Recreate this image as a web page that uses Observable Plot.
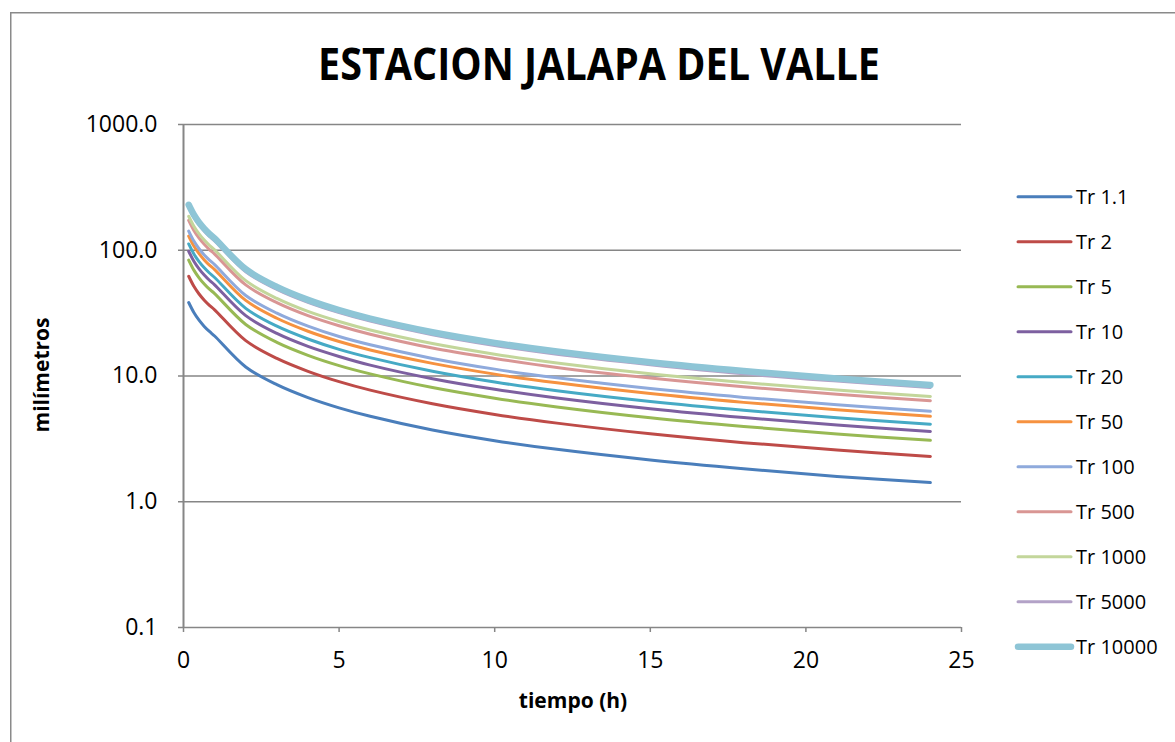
<!DOCTYPE html>
<html>
<head>
<meta charset="utf-8">
<script src="https://cdn.jsdelivr.net/npm/d3@7"></script>
<script src="https://cdn.jsdelivr.net/npm/@observablehq/plot@0.6"></script>
<style>
  html, body { margin: 0; padding: 0; background: #fff; }
  #chart { width: 1175px; height: 742px; overflow: hidden; }
</style>
</head>
<body>
<div id="chart"></div>
<script>
// duration in hours
const durations = [0.167, 0.333, 0.5, 0.667, 0.833, 1, 2, 3, 4, 5, 6, 8, 10, 12, 15, 18, 21, 24];

const tr1_1   = [38.4, 32.0, 27.8, 24.8, 22.6, 20.8, 11.8, 8.53, 6.73, 5.58, 4.78, 3.72, 3.06, 2.61, 2.15, 1.83, 1.59, 1.42];
const tr2     = [62.1, 51.7, 44.9, 40.1, 36.5, 33.6, 19.1, 13.8, 10.9, 9.02, 7.72, 6.02, 4.95, 4.22, 3.47, 2.95, 2.58, 2.29];
const tr5     = [83.5, 69.5, 60.4, 53.9, 49.0, 45.2, 25.7, 18.5, 14.6, 12.1, 10.4, 8.09, 6.66, 5.68, 4.66, 3.97, 3.46, 3.08];
const tr10    = [98.2, 81.8, 71.1, 63.5, 57.7, 53.1, 30.2, 21.8, 17.2, 14.3, 12.2, 9.52, 7.84, 6.68, 5.49, 4.67, 4.07, 3.62];
const tr20    = [112.2, 93.5, 81.2, 72.5, 65.9, 60.7, 34.5, 24.9, 19.7, 16.3, 14.0, 10.9, 8.95, 7.63, 6.27, 5.34, 4.66, 4.14];
const tr50    = [129.7, 108.0, 93.9, 83.8, 76.2, 70.2, 39.9, 28.8, 22.7, 18.8, 16.1, 12.6, 10.35, 8.82, 7.25, 6.17, 5.38, 4.78];
const tr100   = [142.1, 118.3, 102.8, 91.8, 83.5, 76.9, 43.7, 31.6, 24.9, 20.6, 17.7, 13.8, 11.34, 9.67, 7.94, 6.76, 5.90, 5.24];
const tr500   = [172.5, 143.6, 124.8, 111.5, 101.3, 93.3, 53.0, 38.3, 30.2, 25.1, 21.5, 16.7, 13.8, 11.7, 9.64, 8.21, 7.16, 6.36];
const tr1000  = [186.3, 155.1, 134.8, 120.4, 109.4, 100.8, 57.3, 41.4, 32.6, 27.1, 23.2, 18.1, 14.9, 12.7, 10.4, 8.86, 7.73, 6.87];
const tr5000  = [219.7, 182.9, 158.9, 141.9, 129.0, 118.8, 67.5, 48.8, 38.5, 31.9, 27.3, 21.3, 17.5, 14.9, 12.3, 10.4, 9.11, 8.10];
const tr10000 = [230.0, 191.5, 166.4, 148.6, 135.1, 124.4, 70.7, 51.1, 40.3, 33.4, 28.6, 22.3, 18.35, 15.64, 12.85, 10.94, 9.54, 8.48];

const seriesNames  = ["Tr 1.1", "Tr 2", "Tr 5", "Tr 10", "Tr 20", "Tr 50", "Tr 100", "Tr 500", "Tr 1000", "Tr 5000", "Tr 10000"];
const seriesValues = [tr1_1, tr2, tr5, tr10, tr20, tr50, tr100, tr500, tr1000, tr5000, tr10000];
const seriesColors = ["#4a7ebb", "#be4b48", "#98b954", "#7d60a0", "#46aac5", "#f69240", "#8faadc", "#d99694", "#c3d69b", "#b3a2c7", "#8ec5d6"];
const seriesWidths = [3, 3, 3, 3, 3, 3, 3, 3, 3, 3, 6.5];

const yTicks = [0.1, 1, 10, 100, 1000];
const xTicks = [0, 5, 10, 15, 20, 25];

const titleText = "ESTACION JALAPA DEL VALLE";
const xLabel = "tiempo (h)";
const yLabel = "milímetros";

const FONT = "'Open Sans', 'Liberation Sans', sans-serif";
const GRID = "#868686";

const lineMarks = seriesNames.map((name, i) => {
  const rows = durations.map((t, j) => ({t, v: seriesValues[i][j], s: name}));
  return Plot.line(rows, {
    x: "t", y: "v",
    stroke: seriesColors[i],
    strokeWidth: seriesWidths[i],
    curve: "catmull-rom",
    strokeLinecap: "round",
    strokeLinejoin: "round"
  });
});

const svg = Plot.plot({
  width: 1175,
  height: 742,
  marginLeft: 183,
  marginRight: 214,
  marginTop: 124,
  marginBottom: 115,
  style: {fontFamily: FONT, fontSize: "23px", color: "#000", background: "#fff", overflow: "hidden"},
  x: {domain: [0, 25]},
  y: {type: "log", domain: [0.1, 1000]},
  marks: [
    Plot.ruleY(yTicks, {stroke: GRID, strokeWidth: 1.5}),
    Plot.ruleX([0], {stroke: GRID, strokeWidth: 2}),
    Plot.axisY({ticks: yTicks, tickFormat: d => d.toFixed(1), tickSize: 5, tickPadding: 21,
      stroke: GRID, strokeWidth: 1.5, fill: "#000", label: null, fontSize: 23}),
    Plot.axisX({ticks: xTicks, tickFormat: d => String(d), tickSize: 5, tickPadding: 19,
      stroke: GRID, strokeWidth: 1.5, fill: "#000", label: null, fontSize: 23}),
    ...lineMarks
  ]
});

const sel = d3.select(svg);

// outer chart border
sel.append("rect")
  .attr("x", 10.75).attr("y", 12.75)
  .attr("width", 2000).attr("height", 2000)
  .attr("fill", "none").attr("stroke", "#8a8a8a").attr("stroke-width", 1.5);

// title
sel.append("text")
  .attr("x", 599).attr("y", 80)
  .attr("text-anchor", "middle")
  .attr("font-family", FONT).attr("font-weight", "bold").attr("font-size", 44)
  .attr("textLength", 562).attr("lengthAdjust", "spacingAndGlyphs")
  .attr("fill", "#000")
  .text(titleText);

// x label
sel.append("text")
  .attr("x", 573).attr("y", 708)
  .attr("text-anchor", "middle")
  .attr("font-family", FONT).attr("font-weight", "bold").attr("font-size", 21)
  .attr("fill", "#000")
  .text(xLabel);

// y label
sel.append("text")
  .attr("transform", "translate(49,375) rotate(-90)")
  .attr("text-anchor", "middle")
  .attr("font-family", FONT).attr("font-weight", "bold").attr("font-size", 21)
  .attr("fill", "#000")
  .text(yLabel);

// legend
const lg = sel.append("g").attr("text-anchor", "start");
seriesNames.forEach((name, i) => {
  const y = 196.7 + 45 * i;
  lg.append("line")
    .attr("x1", 1018).attr("x2", 1071).attr("y1", y).attr("y2", y)
    .attr("stroke", seriesColors[i]).attr("stroke-width", seriesWidths[i])
    .attr("stroke-linecap", "round");
  lg.append("text")
    .attr("x", 1076).attr("y", y)
    .attr("dy", "0.36em")
    .attr("text-anchor", "start")
    .attr("font-family", FONT).attr("font-size", 20)
    .attr("fill", "#000")
    .text(name);
});

document.getElementById("chart").appendChild(svg);
</script>
</body>
</html>
